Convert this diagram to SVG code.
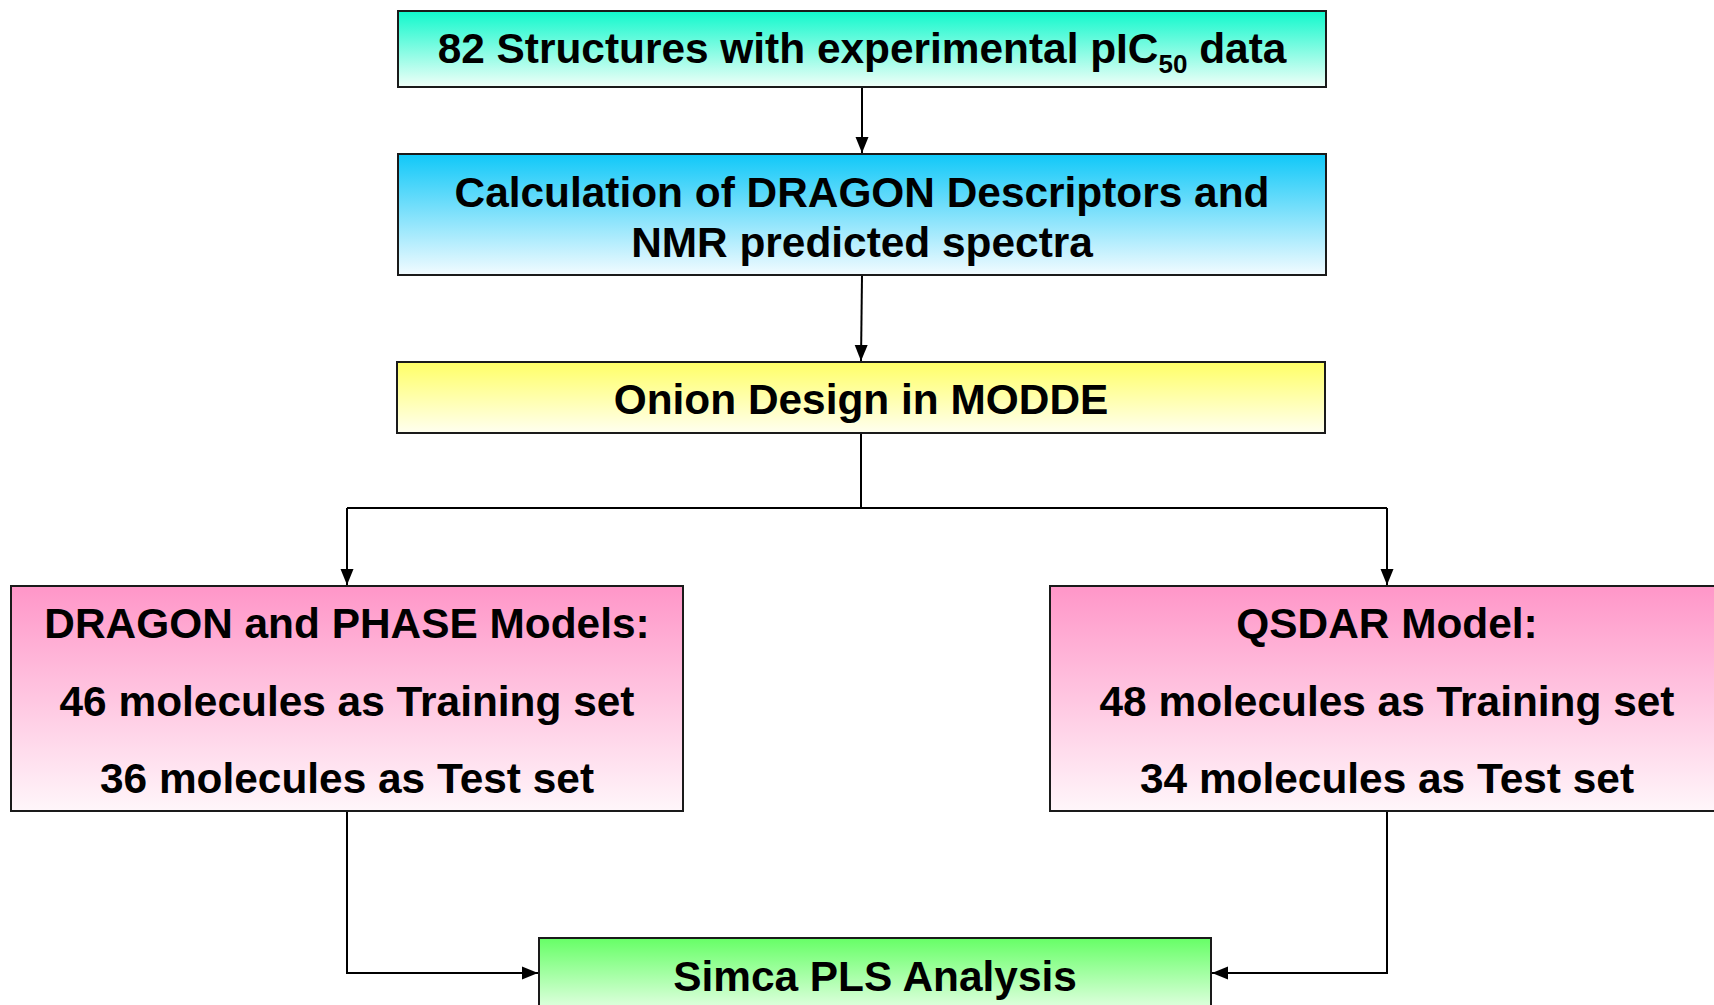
<svg xmlns="http://www.w3.org/2000/svg" width="1714" height="1005" viewBox="0 0 1714 1005">
<style>
.box{stroke:#1a1a1a;stroke-width:2}
.t{font-family:"Liberation Sans",Arial,sans-serif;font-weight:bold;fill:#000;text-anchor:middle;font-size:42.4px}
.c{fill:none;stroke:#000;stroke-width:2}
</style>
<defs>
<linearGradient id="gTeal" x1="0" y1="0" x2="0" y2="1"><stop offset="0" stop-color="#10F8CC"/><stop offset="1" stop-color="#F0FFF8"/></linearGradient>
<linearGradient id="gBlue" x1="0" y1="0" x2="0" y2="1"><stop offset="0" stop-color="#10C8F8"/><stop offset="1" stop-color="#F2FBFF"/></linearGradient>
<linearGradient id="gYel" x1="0" y1="0" x2="0" y2="1"><stop offset="0" stop-color="#FFFF66"/><stop offset="1" stop-color="#FFFFF0"/></linearGradient>
<linearGradient id="gPink" x1="0" y1="0" x2="0" y2="1"><stop offset="0" stop-color="#FF96C8"/><stop offset="1" stop-color="#FFF6FA"/></linearGradient>
<linearGradient id="gGreen" x1="0" y1="0" x2="0" y2="1"><stop offset="0" stop-color="#66FF66"/><stop offset="1" stop-color="#F0FFF0"/></linearGradient>
<marker id="ah" markerWidth="16" markerHeight="16" viewBox="0 0 16 16" refX="16" refY="8" orient="auto" markerUnits="userSpaceOnUse"><path d="M0,1.5 L16,8 L0,14.5 Z" fill="#000"/></marker>
</defs>
<g id="connectors">
<path class="c" d="M862,87 V153" marker-end="url(#ah)"/>
<path class="c" d="M862,275 L861,361" marker-end="url(#ah)"/>
<path class="c" d="M861,433 V508"/>
<path class="c" d="M347,508 H1387"/>
<path class="c" d="M347,508 V585" marker-end="url(#ah)"/>
<path class="c" d="M1387,508 V585" marker-end="url(#ah)"/>
<path class="c" d="M347,811 V973 H538" marker-end="url(#ah)"/>
<path class="c" d="M1387,811 V973 H1212" marker-end="url(#ah)"/>
</g>
<g id="n1">
<rect class="box" x="398" y="11" width="928" height="76" fill="url(#gTeal)"/>
<text class="t" x="862" y="63">82 Structures with experimental pIC<tspan font-size="26" dy="10">50</tspan><tspan dy="-10"> data</tspan></text>
</g>
<g id="n2">
<rect class="box" x="398" y="154" width="928" height="121" fill="url(#gBlue)"/>
<text class="t" x="862" y="207">Calculation of DRAGON Descriptors and</text>
<text class="t" x="862" y="257">NMR predicted spectra</text>
</g>
<g id="n3">
<rect class="box" x="397" y="362" width="928" height="71" fill="url(#gYel)"/>
<text class="t" x="861" y="414">Onion Design in MODDE</text>
</g>
<g id="n4">
<rect class="box" x="11" y="586" width="672" height="225" fill="url(#gPink)"/>
<text class="t" x="347" y="638">DRAGON and PHASE Models:</text>
<text class="t" x="347" y="716">46 molecules as Training set</text>
<text class="t" x="347" y="793">36 molecules as Test set</text>
</g>
<g id="n5">
<rect class="box" x="1050" y="586" width="672" height="225" fill="url(#gPink)"/>
<text class="t" x="1387" y="638">QSDAR Model:</text>
<text class="t" x="1387" y="716">48 molecules as Training set</text>
<text class="t" x="1387" y="793">34 molecules as Test set</text>
</g>
<g id="n6">
<rect class="box" x="539" y="938" width="672" height="80" fill="url(#gGreen)"/>
<text class="t" x="875" y="991">Simca PLS Analysis</text>
</g>
</svg>
